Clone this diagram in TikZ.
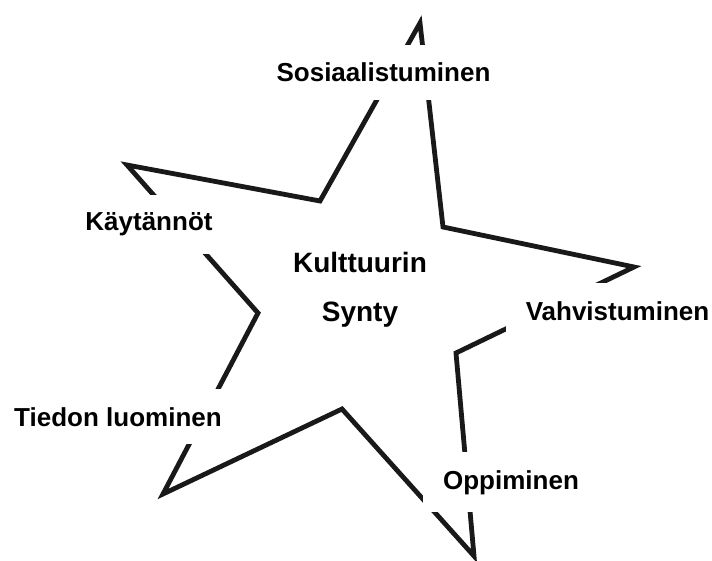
\documentclass[tikz,border=0pt]{standalone}
\usepackage{fontspec}
\setmainfont{Liberation Sans}
\begin{document}
\begin{tikzpicture}[x=1pt,y=-1pt,
  starline/.style={line width=4.8pt, line join=miter, draw=black!90},
  lbl/.style={fill=white, inner xsep=20pt, inner ysep=18pt, anchor=base,
    font=\fontsize{26}{31}\selectfont\bfseries},
  ctr/.style={align=center, anchor=base,
    font=\fontsize{28}{50}\selectfont\bfseries}]
\useasboundingbox (0,0) rectangle (712,561);
% star vertices
\coordinate (T)  at (420,23);
\coordinate (I1) at (443,227);
\coordinate (R)  at (634,267);
\coordinate (I2) at (456,353);
\coordinate (BR) at (474,556);
\coordinate (I3) at (342,409);
\coordinate (BL) at (163,494);
\coordinate (I4) at (258,313);
\coordinate (L)  at (127,165);
\coordinate (I5) at (320,201);
\draw[starline] (T) -- (I1) -- (R) -- (I2) -- (BR) -- (I3) -- (BL) -- (I4) -- (L) -- (I5) -- cycle;
% labels
\node[lbl] (sos) at (383.5,82) {Sosiaalistuminen};
\node[lbl] (kay) at (149,231) {Käytännöt};
\node[lbl] (vah) at (617.5,320) {Vahvistuminen};
\node[lbl] (tie) at (118,426) {Tiedon luominen};
\node[lbl] (opp) at (511,489) {Oppiminen};
\node[ctr] (kul) at (360,322) {Kulttuurin\\Synty};
\end{tikzpicture}
\end{document}
